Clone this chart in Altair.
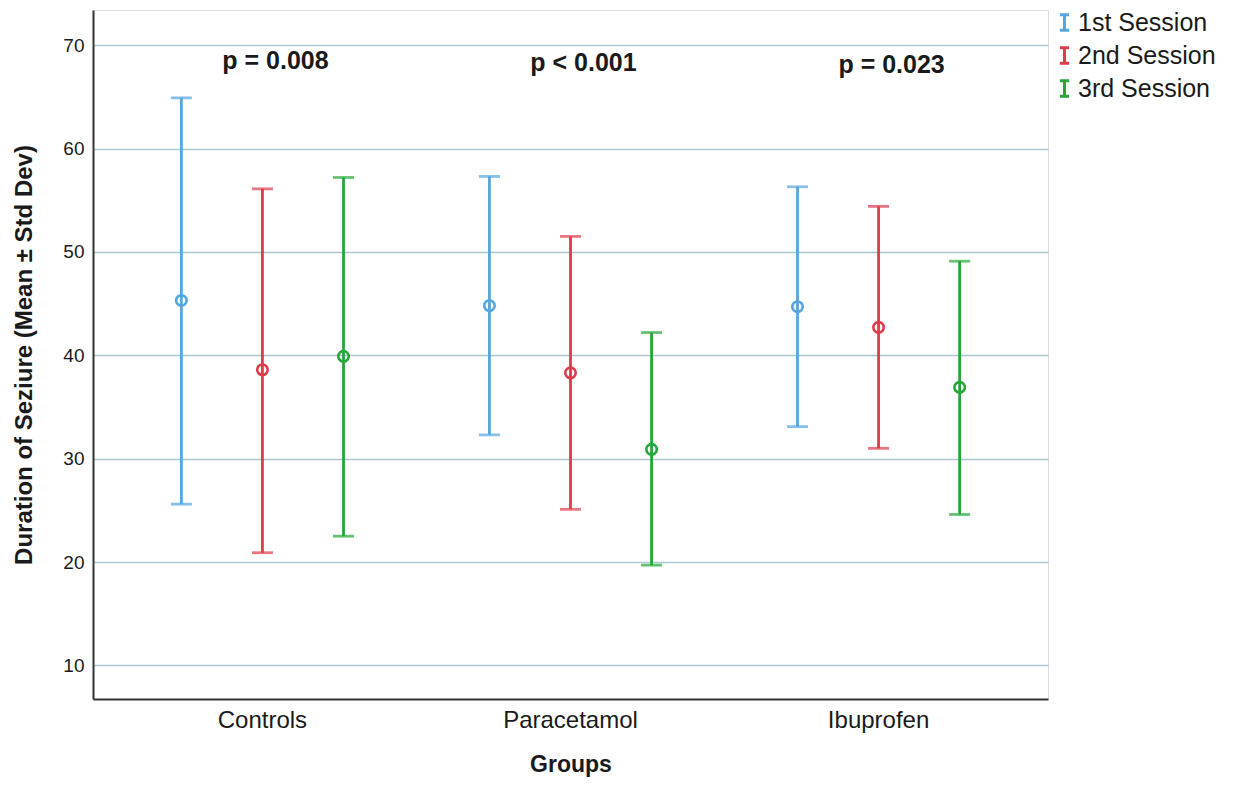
import altair as alt
import pandas as pd

groups = ["Controls", "Paracetamol", "Ibuprofen"]
sessions = ["1st Session", "2nd Session", "3rd Session"]
colors = ["#55A5E0", "#DE3C4B", "#25A637"]

# per session: values for Controls, Paracetamol, Ibuprofen
mean_vals = {
    "1st Session": [45.3, 44.8, 44.7],
    "2nd Session": [38.6, 38.3, 42.7],
    "3rd Session": [39.9, 30.9, 36.9],
}
upper_vals = {
    "1st Session": [64.9, 57.3, 56.3],
    "2nd Session": [56.1, 51.5, 54.4],
    "3rd Session": [57.2, 42.2, 49.1],
}
lower_vals = {
    "1st Session": [25.6, 32.3, 33.1],
    "2nd Session": [20.9, 25.1, 31.0],
    "3rd Session": [22.5, 19.7, 24.6],
}

p_labels = ["p = 0.008", "p < 0.001", "p = 0.023"]
p_y = [68.5, 68.3, 68.05]

rows = []
for s in sessions:
    for i, g in enumerate(groups):
        rows.append({"group": g, "session": s, "mean": mean_vals[s][i],
                     "upper": upper_vals[s][i], "lower": lower_vals[s][i]})
df = pd.DataFrame(rows)
pdf = pd.DataFrame({"group": groups, "label": p_labels, "y": p_y})

FONT = "Liberation Sans"

xenc = alt.X("group:N", sort=groups,
             scale=alt.Scale(paddingInner=0, paddingOuter=0.05),
             axis=alt.Axis(title="Groups", labelAngle=0, labelFontSize=24,
                           labelColor="#1a1a1a", labelPadding=9, ticks=False,
                           titleFontSize=23, titleFontWeight="bold",
                           titleColor="#1a1a1a", titlePadding=21,
                           domainColor="#333", domainWidth=2, grid=False))
xoff = alt.XOffset("session:N", sort=sessions,
                   scale=alt.Scale(paddingInner=0, paddingOuter=0.4))
yscale = alt.Scale(domain=[6.75, 73.4], nice=False, zero=False)
yaxis = alt.Axis(title="Duration of Seziure (Mean ± Std Dev)",
                 values=[10, 20, 30, 40, 50, 60, 70], labelFontSize=19,
                 labelColor="#1a1a1a", labelPadding=9, ticks=False,
                 titleFontSize=24, titleFontWeight="bold", titleColor="#1a1a1a",
                 titlePadding=26, domainColor="#333", domainWidth=2,
                 grid=True, gridColor="#A9C8CD", gridWidth=1.5)
cenc = alt.Color("session:N", scale=alt.Scale(domain=sessions, range=colors),
                 sort=sessions,
                 legend=alt.Legend(title=None, orient="none",
                                   legendX=959, legendY=0, padding=0,
                                   symbolType="M-0.6,-1H0.6M0,-1V1M-0.6,1H0.6",
                                   symbolSize=240, symbolStrokeWidth=3,
                                   symbolOpacity=1,
                                   symbolFillColor="transparent",
                                   labelFontSize=25, labelColor="#1a1a1a",
                                   labelFont=FONT, rowPadding=4,
                                   labelOffset=1))

base = alt.Chart(df)

rules = base.mark_rule(strokeWidth=2.8).encode(
    x=xenc, xOffset=xoff,
    y=alt.Y("lower:Q", scale=yscale, axis=yaxis),
    y2="upper:Q",
    color=cenc,
)
caps_hi = base.mark_tick(size=21, thickness=2.8, orient="horizontal").encode(
    x=xenc, xOffset=xoff,
    y=alt.Y("upper:Q", scale=yscale),
    color=cenc,
)
caps_lo = base.mark_tick(size=21, thickness=2.8, orient="horizontal").encode(
    x=xenc, xOffset=xoff,
    y=alt.Y("lower:Q", scale=yscale),
    color=cenc,
)
points = base.mark_point(shape="circle", filled=False, size=110,
                         strokeWidth=2.6, opacity=1).encode(
    x=xenc, xOffset=xoff,
    y=alt.Y("mean:Q", scale=yscale),
    color=cenc,
)
ptext = alt.Chart(pdf).mark_text(fontSize=25, fontWeight="bold",
                                 color="#1a1a1a", font=FONT, dx=13).encode(
    x=alt.X("group:N", sort=groups),
    y=alt.Y("y:Q", scale=yscale),
    text="label:N",
)

chart = alt.layer(rules, caps_hi, caps_lo, points, ptext).properties(
    width=955, height=689,
    autosize=alt.AutoSizeParams(type="none"),
    padding={"left": 85, "top": 2, "right": 175, "bottom": 78},
    background="#FFFFFF",
).configure_view(stroke=None, fill="#FBFBFD").configure(font=FONT)

chart.save("out.html", embed_options={"renderer": "svg", "actions": False})
